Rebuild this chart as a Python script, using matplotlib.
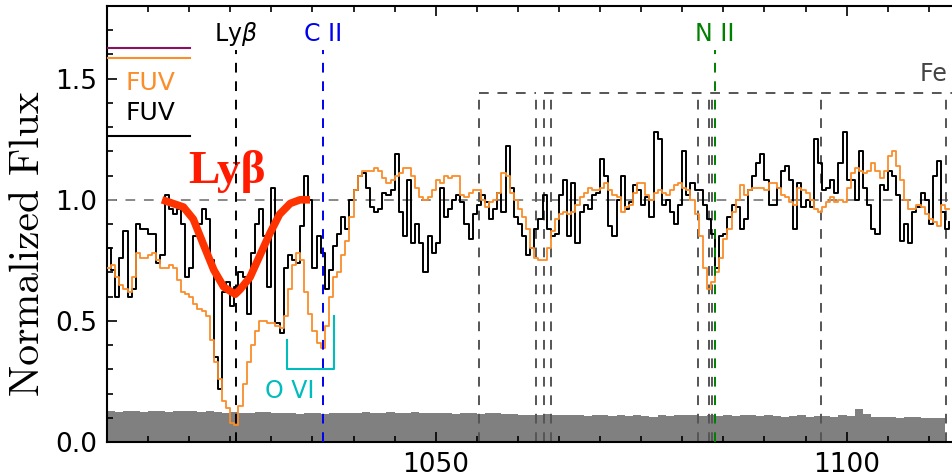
import matplotlib
matplotlib.use("Agg")
import matplotlib.pyplot as plt
import numpy as np

# spectra on a 0.5 A grid starting at 1010 A
wave = np.arange(1010.0, 1113.0, 0.5)

flux_black = [
    0.80, 0.71, 0.60, 0.76, 0.87, 0.60, 0.63, 0.90, 0.88, 0.88,
    0.86, 0.86, 0.74, 0.77, 1.02, 0.96, 0.94, 0.96, 0.90, 0.68,
    0.72, 0.85, 0.90, 0.96, 0.92, 0.75, 0.35, 0.22, 0.62, 0.66,
    0.56, 0.64, 0.70,
    0.68, 0.53, 0.78, 0.90, 0.96, 0.85, 0.64,
    1.05, 0.49, 0.45, 0.72, 0.77, 0.75, 0.74, 0.89, 1.10, 1.00,
    0.72, 0.85, 0.78, 0.63, 0.71, 0.81, 0.86, 0.93, 0.88, 1.00,
    1.04, 1.10, 1.11, 1.05, 0.97,
    0.95, 0.96, 1.03, 1.02, 1.04,
    1.19, 0.95, 0.85, 1.08, 0.82, 0.90, 0.82, 0.70, 0.85, 0.78,
    0.82, 1.05, 0.93, 0.96, 1.00, 1.02, 0.99, 0.90, 0.84, 0.94,
    0.98, 1.02, 0.99, 0.92, 0.96, 1.03, 0.95, 1.22, 1.05, 0.93,
    0.90, 0.85,
    0.77, 0.80, 0.88, 0.92, 1.02, 0.88, 0.85, 0.86,
    1.02, 1.08, 0.85, 1.07, 0.82, 0.95, 0.98, 0.96, 1.02, 1.03,
    1.17, 1.10, 0.89, 0.85, 1.00, 1.10, 0.96, 0.99, 1.06, 1.04,
    0.98, 1.01, 0.93, 1.28, 1.25, 0.98, 1.00, 0.95,
    0.90, 0.98,
    1.20, 1.02, 1.07, 1.04, 1.04, 0.98, 0.92, 0.86, 0.72, 0.85,
    0.86, 0.93, 0.98, 0.97, 0.88, 0.92, 1.04, 1.10, 1.15, 1.19,
    1.08, 0.98, 0.98, 1.05, 1.12, 1.14, 1.08, 0.88, 1.07, 0.97,
    1.00, 0.97, 1.25, 1.15, 1.04,
    1.05, 1.08, 1.03, 1.15, 1.28,
    1.08, 1.08, 1.00, 1.20, 1.05, 0.98, 0.88, 0.86, 1.06, 1.04,
    1.12, 1.10, 1.02, 0.83, 0.90, 0.82, 0.95, 0.97, 1.03, 1.00,
    0.90, 1.10, 1.16, 0.95, 0.88, 0.91,
]

flux_orange = [
    0.72, 0.73, 0.68, 0.65, 0.63, 0.62, 0.68, 0.78, 0.76, 0.76,
    0.77, 0.78, 0.75, 0.72, 0.72, 0.73, 0.72, 0.67, 0.62, 0.61,
    0.60, 0.57, 0.55, 0.54, 0.52, 0.42, 0.33, 0.26, 0.17, 0.14,
    0.08, 0.07, 0.15,
    0.24, 0.33, 0.40, 0.46, 0.50, 0.50, 0.49,
    0.49, 0.48, 0.47, 0.52, 0.63, 0.73, 0.78, 0.75, 0.62, 0.53,
    0.46, 0.41, 0.39, 0.48, 0.60, 0.68, 0.70, 0.77, 0.83, 0.93,
    1.04, 1.10, 1.12, 1.12, 1.12,
    1.13, 1.12, 1.09, 1.07, 1.08,
    1.10, 1.11, 1.13, 1.13, 1.10, 1.05, 1.01, 1.00, 1.01, 1.04,
    1.08, 1.07, 1.10, 1.09, 1.10, 1.10, 1.02, 1.01, 1.03, 1.04,
    1.04, 1.00, 0.97, 0.99, 1.00, 1.03, 1.11, 1.10, 1.03, 1.00,
    0.96, 0.93,
    0.88, 0.80, 0.76, 0.75, 0.75, 0.80, 0.87, 0.92,
    0.94, 0.95, 0.94, 0.95, 0.98, 1.01, 1.03, 1.05, 1.04, 1.04,
    1.05, 1.07, 1.04, 1.02, 1.01, 0.95, 0.97, 0.98, 1.03, 1.07,
    1.07, 1.02, 1.00, 1.03, 1.04, 1.03, 1.02, 1.04,
    1.06, 1.07,
    1.05, 1.04, 1.00, 0.94, 0.85, 0.72, 0.63, 0.66, 0.70, 0.76,
    0.84, 0.88, 0.95, 1.00, 1.06, 1.02, 1.04, 1.05, 1.05, 1.05,
    1.04, 1.07, 1.07, 1.05, 1.02, 1.01, 0.99, 0.98, 1.05, 1.04,
    1.03, 1.00, 0.96, 0.95, 0.97,
    0.99, 1.01, 0.99, 1.00, 0.99,
    1.05, 1.11, 1.13, 1.12, 1.11, 1.12, 1.15, 1.12, 1.09, 1.12,
    1.18, 1.20, 1.14, 1.08, 1.00, 0.96, 0.96, 0.98, 0.97, 0.94,
    0.92, 0.91, 0.89, 0.98, 0.96, 0.96,
]

# error spectrum, 1 A grid
err_wave = np.arange(1010.0, 1113.0, 1.0)
err_flux = [
    0.130, 0.125, 0.130, 0.128, 0.125, 0.130, 0.127, 0.125, 0.130, 0.128,
    0.127, 0.125, 0.130, 0.125, 0.120, 0.122, 0.118, 0.120, 0.125, 0.122,
    0.120, 0.118, 0.120, 0.115, 0.118, 0.120, 0.115, 0.118, 0.120, 0.118,
    0.120, 0.122, 0.118, 0.120, 0.125, 0.120, 0.118, 0.122, 0.120, 0.118,
    0.120, 0.118, 0.115, 0.118, 0.120, 0.115, 0.118, 0.120, 0.117, 0.115,
    0.113, 0.110, 0.112, 0.115, 0.112, 0.110, 0.113, 0.110, 0.108, 0.112,
    0.110, 0.108, 0.110, 0.107, 0.110, 0.108, 0.105, 0.110, 0.108, 0.110,
    0.112, 0.110, 0.108, 0.110, 0.107, 0.110, 0.108, 0.112, 0.110, 0.108,
    0.110, 0.107, 0.105, 0.108, 0.110, 0.105, 0.108, 0.107, 0.105, 0.110,
    0.108, 0.135, 0.115, 0.105, 0.103, 0.105, 0.100, 0.102, 0.105, 0.100,
    0.098, 0.100, 0.098,
]

# Ly-beta absorption profile
lyb_wave = [1016.7, 1019.3, 1020.5, 1021.8, 1023.0, 1024.2, 1025.6, 1026.2,
            1027.4, 1028.6, 1029.8, 1031.0, 1032.3, 1033.5, 1034.7]
lyb_flux = [1.00, 0.97, 0.92, 0.81, 0.71, 0.64, 0.61, 0.63,
            0.68, 0.77, 0.86, 0.94, 0.985, 1.00, 1.00]

lyb_line = 1025.72
c2_line = 1036.34
n2_line = 1083.99
o6_lines = [1031.93, 1037.62]
fe2_lines = [1055.26, 1062.15, 1063.18, 1063.97, 1081.87, 1083.30, 1083.60,
             1096.88, 1112.05]

DASH = (0, (5, 4.5))

fig = plt.figure(figsize=(9.52, 4.76), dpi=100)
ax = fig.add_axes([107 / 952, 34 / 476, 904 / 952, 436 / 476])

ax.fill_between(err_wave, 0, err_flux, step="post", color="#808080", lw=0, zorder=1)

ax.axhline(1.0, color="#888888", ls=DASH, lw=1.4, zorder=2)

for w in fe2_lines:
    ax.plot([w, w], [0, 1.44], color="#555555", ls=DASH, lw=1.4, zorder=2)
ax.plot([1055.26, 1062.15], [1.44, 1.44], color="#555555", ls=DASH, lw=1.4, zorder=2)
ax.plot([1063.18, 1125.0], [1.44, 1.44], color="#555555", ls=DASH, lw=1.4, zorder=2)

ax.plot(wave, flux_black, drawstyle="steps-post", color="black", lw=1.4, zorder=3)
ax.plot(wave, flux_orange, drawstyle="steps-post", color="#f98e2b", lw=1.3, zorder=4)

ax.plot([lyb_line, lyb_line], [0, 1.62], color="black", ls=DASH, lw=1.4, zorder=5)
ax.plot([c2_line, c2_line], [0, 1.62], color="#0000ee", ls=DASH, lw=1.4, zorder=5)
ax.plot([n2_line, n2_line], [0, 1.62], color="#008000", ls=DASH, lw=1.4, zorder=5)

ax.plot(lyb_wave, lyb_flux, color="#ff3300", lw=5.5, solid_capstyle="butt", zorder=6)

# O VI bracket
ax.plot([o6_lines[0], o6_lines[0], o6_lines[1], o6_lines[1]], [0.42, 0.30, 0.30, 0.52],
        color="#00bcbc", lw=1.5, zorder=6)
ax.text(1032.2, 0.18, "O VI", color="#00bcbc", fontsize=17, ha="center", va="baseline")

ax.text(lyb_line, 1.655, r"Ly$\beta$", color="black", fontsize=17, ha="center", va="baseline")
ax.text(c2_line, 1.655, "C II", color="#0000ee", fontsize=17, ha="center", va="baseline")
ax.text(n2_line, 1.655, "N II", color="#008000", fontsize=17, ha="center", va="baseline")
ax.text(1108.9, 1.49, "Fe II", color="#444444", fontsize=17, ha="left", va="baseline")

ax.text(1019.9, 1.07, "Lyβ", color="#ff1a00", fontsize=34, fontweight="bold",
        family="Liberation Serif", ha="left", va="baseline")

# legend-like annotations in the upper left
ax.plot([1010, 1020.1], [1.628, 1.628], color="#8b1060", lw=1.5, zorder=6)
ax.plot([1010, 1020.1], [1.587, 1.587], color="#f98e2b", lw=1.5, zorder=6)
ax.plot([1010, 1020.1], [1.264, 1.264], color="black", lw=1.5, zorder=6)
ax.text(1012.2, 1.455, "FUV", color="#f98e2b", fontsize=18, ha="left", va="baseline")
ax.text(1012.2, 1.33, "FUV", color="black", fontsize=18, ha="left", va="baseline")

ax.set_xlim(1010, 1120)
ax.set_ylim(0, 1.8)
ax.set_xticks([1050, 1100])
ax.set_xticks(np.arange(1010, 1121, 5), minor=True)
ax.set_yticks([0.0, 0.5, 1.0, 1.5])
ax.set_yticks(np.arange(0, 1.81, 0.1), minor=True)
ax.set_yticklabels(["0.0", "0.5", "1.0", "1.5"])
ax.tick_params(which="both", direction="in", top=True, right=True, width=1.2, labelsize=19)
ax.tick_params(which="major", length=7, pad=7)
ax.tick_params(which="minor", length=4)
for sp in ax.spines.values():
    sp.set_linewidth(1.5)

ax.set_ylabel("Normalized Flux", family="cmr10", fontsize=30)
ax.yaxis.set_label_coords(-0.066, 0.455)

fig.savefig("out.png", dpi=100)
